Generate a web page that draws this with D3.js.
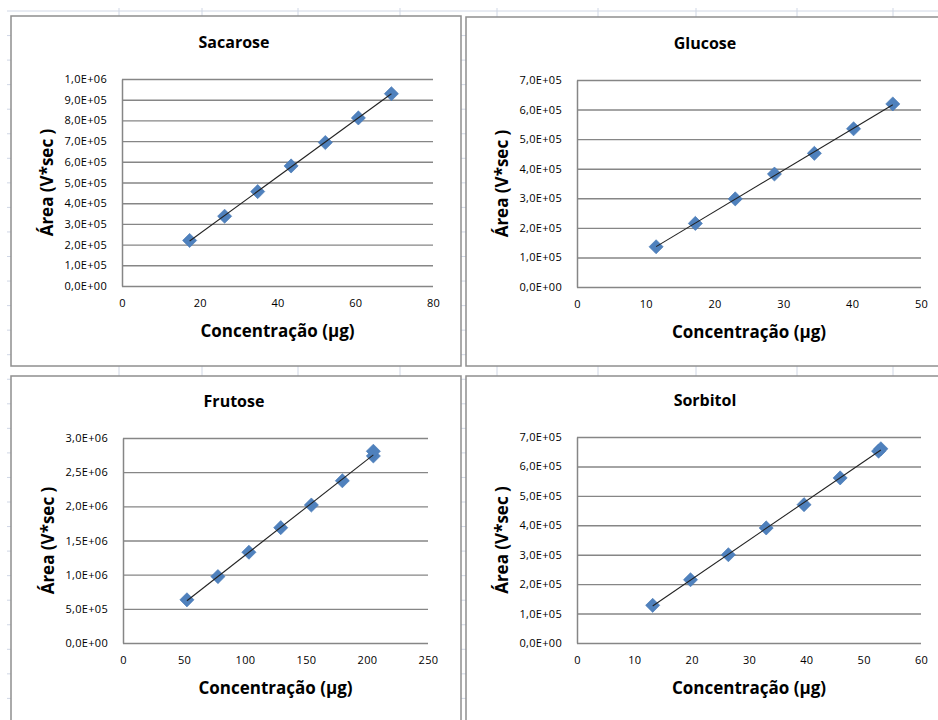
<!DOCTYPE html>
<html>
<head>
<meta charset="utf-8">
<script src="https://cdn.jsdelivr.net/npm/d3@7"></script>
<style>
body { margin: 0; background: #fff; }
svg { display: block; }
text { font-family: "Open Sans", "Noto Sans", sans-serif; fill: #000; }
</style>
</head>
<body>
<svg id="chart" width="938" height="720"></svg>
<script>
// calibration data (concentração in µg, área in V*sec)
var sacaroseConc = [17.4, 26.4, 34.9, 43.5, 52.3, 60.8, 69.3];
var sacaroseArea = [2.20e5, 3.37e5, 4.56e5, 5.80e5, 6.93e5, 8.12e5, 9.29e5];
var sacaroseXTicks = [0, 20, 40, 60, 80];
var sacaroseYTicks = [0, 1e5, 2e5, 3e5, 4e5, 5e5, 6e5, 7e5, 8e5, 9e5, 1e6];

var glucoseConc = [11.5, 17.2, 23.0, 28.7, 34.5, 40.2, 45.9];
var glucoseArea = [1.36e5, 2.15e5, 2.98e5, 3.82e5, 4.52e5, 5.35e5, 6.19e5];
var glucoseXTicks = [0, 10, 20, 30, 40, 50];
var glucoseYTicks = [0, 1e5, 2e5, 3e5, 4e5, 5e5, 6e5, 7e5];

var frutoseConc = [52.4, 77.8, 103.2, 129.3, 154.4, 179.8, 205.2, 205.2];
var frutoseArea = [6.32e5, 9.72e5, 1.328e6, 1.688e6, 2.019e6, 2.374e6, 2.737e6, 2.806e6];
var frutoseXTicks = [0, 50, 100, 150, 200, 250];
var frutoseYTicks = [0, 5e5, 1e6, 1.5e6, 2e6, 2.5e6, 3e6];

var sorbitolConc = [13.2, 19.8, 26.4, 33.0, 39.6, 45.9, 52.6, 53.0];
var sorbitolArea = [1.28e5, 2.15e5, 3.00e5, 3.91e5, 4.70e5, 5.61e5, 6.52e5, 6.60e5];
var sorbitolXTicks = [0, 10, 20, 30, 40, 50, 60];
var sorbitolYTicks = [0, 1e5, 2e5, 3e5, 4e5, 5e5, 6e5, 7e5];

// layout of the four embedded charts: frame [x, y, w, h], plot [left, top, right, bottom]
var panels = [
    { title: "Sacarose", conc: sacaroseConc, area: sacaroseArea, xTicks: sacaroseXTicks, yTicks: sacaroseYTicks,
      frame: [11, 16, 450, 350], plot: [122, 79, 433, 286], titleX: 234 },
    { title: "Glucose", conc: glucoseConc, area: glucoseArea, xTicks: glucoseXTicks, yTicks: glucoseYTicks,
      frame: [466, 17, 480, 349], plot: [577, 80, 921, 287], titleX: 705 },
    { title: "Frutose", conc: frutoseConc, area: frutoseArea, xTicks: frutoseXTicks, yTicks: frutoseYTicks,
      frame: [11, 376, 450, 360], plot: [123, 438, 428, 643], titleX: 234 },
    { title: "Sorbitol", conc: sorbitolConc, area: sorbitolArea, xTicks: sorbitolXTicks, yTicks: sorbitolYTicks,
      frame: [466, 376, 480, 360], plot: [577, 437, 921, 643], titleX: 705 }
];

var W = 938, H = 720;
var sheetCols = [119, 202, 298, 400, 497, 598, 696, 797, 893];
var rowStart = 11, rowStep = 24.55;

var svg = d3.select("#chart");

// excel sheet grid behind the charts
var sheet = svg.append("g").attr("class", "sheet");
sheet.selectAll("line.row")
    .data(d3.range(rowStart, H, rowStep))
    .enter().append("line")
    .attr("class", "row")
    .attr("x1", 7).attr("x2", W)
    .attr("y1", function (d) { return d; }).attr("y2", function (d) { return d; })
    .attr("stroke", "#d0d7e5").attr("stroke-width", 1);
sheet.selectAll("line.col")
    .data(sheetCols)
    .enter().append("line")
    .attr("class", "col")
    .attr("x1", function (d) { return d; }).attr("x2", function (d) { return d; })
    .attr("y1", 8).attr("y2", H)
    .attr("stroke", "#d0d7e5").attr("stroke-width", 1);

// 1,0E+06 style labels
function sciLabel(v) {
    if (v === 0) return "0,0E+00";
    var e = Math.floor(Math.log10(v) + 1e-9);
    var m = v / Math.pow(10, e);
    return m.toFixed(1).replace(".", ",") + "E+" + (e < 10 ? "0" + e : e);
}

function fit(xs, ys) {
    var mx = d3.mean(xs), my = d3.mean(ys);
    var sxy = d3.sum(xs, function (x, i) { return (x - mx) * (ys[i] - my); });
    var sxx = d3.sum(xs, function (x) { return (x - mx) * (x - mx); });
    var b = sxy / sxx;
    return { slope: b, intercept: my - b * mx };
}

panels.forEach(function (p) {
    var g = svg.append("g");
    var left = p.plot[0], top = p.plot[1], right = p.plot[2], bottom = p.plot[3];

    g.append("rect")
        .attr("x", p.frame[0]).attr("y", p.frame[1])
        .attr("width", p.frame[2]).attr("height", p.frame[3])
        .attr("fill", "#fff").attr("stroke", "#8f8f8f").attr("stroke-width", 1.5);

    var x = d3.scaleLinear().domain(d3.extent(p.xTicks)).range([left, right]);
    var y = d3.scaleLinear().domain(d3.extent(p.yTicks)).range([bottom, top]);

    var yAxis = g.append("g")
        .attr("transform", "translate(" + left + ",0)")
        .call(d3.axisLeft(y).tickValues(p.yTicks).tickFormat(sciLabel)
            .tickSizeInner(-(right - left)).tickSizeOuter(0).tickPadding(15));
    yAxis.select(".domain").attr("stroke", "#868686").attr("stroke-width", 1.5);
    yAxis.selectAll(".tick line").attr("stroke", "#868686").attr("stroke-width", 1.4);
    yAxis.selectAll(".tick text").attr("font-size", 11).attr("fill", "#111")
        .attr("letter-spacing", 0.3)
        .style("font-family", "'Open Sans', sans-serif");

    var xAxis = g.append("g")
        .attr("transform", "translate(0," + bottom + ")")
        .call(d3.axisBottom(x).tickValues(p.xTicks).tickSize(0).tickPadding(13));
    xAxis.select(".domain").remove();
    xAxis.selectAll(".tick text").attr("font-size", 11).attr("fill", "#111")
        .attr("letter-spacing", 0.3)
        .style("font-family", "'Open Sans', sans-serif");

    // markers
    g.selectAll("path.pt")
        .data(p.conc.map(function (c, i) { return [c, p.area[i]]; }))
        .enter().append("path")
        .attr("class", "pt")
        .attr("d", d3.symbol().type(d3.symbolSquare).size(100))
        .attr("transform", function (d) { return "translate(" + x(d[0]) + "," + y(d[1]) + ") rotate(45)"; })
        .attr("fill", "#4f81bd").attr("stroke", "#4677b3").attr("stroke-width", 0.6);

    // linear trendline
    var f = fit(p.conc, p.area);
    var x0 = d3.min(p.conc), x1 = d3.max(p.conc);
    g.append("line")
        .attr("x1", x(x0)).attr("y1", y(f.intercept + f.slope * x0))
        .attr("x2", x(x1)).attr("y2", y(f.intercept + f.slope * x1))
        .attr("stroke", "#222").attr("stroke-width", 1.1);

    g.append("text")
        .attr("x", p.titleX).attr("y", top - 37)
        .attr("text-anchor", "middle").attr("dominant-baseline", "central")
        .attr("font-size", 16).attr("font-weight", 700)
        .text(p.title);

    g.append("text")
        .attr("x", (left + right) / 2).attr("y", bottom + 44)
        .attr("text-anchor", "middle").attr("dominant-baseline", "central")
        .attr("font-size", 17).attr("font-weight", 700)
        .text("Concentração (µg)");

    g.append("text")
        .attr("transform", "translate(" + (left - 76) + "," + ((top + bottom) / 2) + ") rotate(-90)")
        .attr("text-anchor", "middle").attr("dominant-baseline", "central")
        .attr("font-size", 17).attr("font-weight", 700)
        .text("Área (V*sec )");
});
</script>
</body>
</html>
